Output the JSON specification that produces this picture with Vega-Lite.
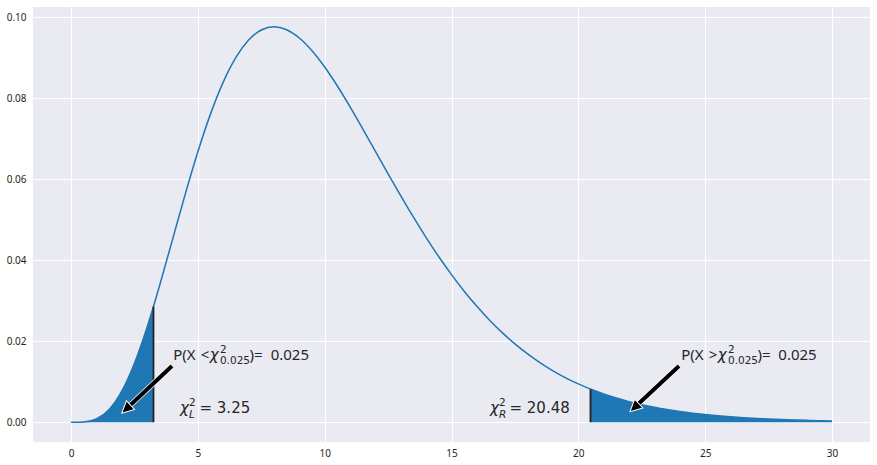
{
  "$schema": "https://vega.github.io/schema/vega-lite/v6.json",
  "width": 837,
  "height": 435,
  "autosize": {"type": "none"},
  "padding": {"left": 33, "top": 7, "right": 7, "bottom": 23},
  "background": "white",
  "config": {
    "view": {"fill": "#EAEAF2", "stroke": null},
    "axis": {"domain": false, "ticks": false, "gridColor": "white", "gridWidth": 1, "gridOpacity": 1, "labelFont": "Noto Sans", "labelFontSize": 10, "labelColor": "#262626", "title": null}
  },
  "datasets": {
    "curve": [
      {"x": 0, "y": 0}, {"x": 0.5, "y": 0.0000634}, {"x": 1, "y": 0.00079}, {"x": 1.5, "y": 0.003114},
      {"x": 2, "y": 0.007664}, {"x": 2.5, "y": 0.014572}, {"x": 3, "y": 0.023533}, {"x": 3.25, "y": 0.028605},
      {"x": 3.5, "y": 0.033954}, {"x": 4, "y": 0.045111}, {"x": 4.5, "y": 0.056276}, {"x": 5, "y": 0.066801},
      {"x": 5.5, "y": 0.07617}, {"x": 6, "y": 0.084016}, {"x": 6.5, "y": 0.090123}, {"x": 7, "y": 0.094405},
      {"x": 7.5, "y": 0.096891}, {"x": 8, "y": 0.097685}, {"x": 8.5, "y": 0.096952}, {"x": 9, "y": 0.094904},
      {"x": 9.5, "y": 0.091759}, {"x": 10, "y": 0.087733}, {"x": 10.5, "y": 0.08306}, {"x": 11, "y": 0.077909},
      {"x": 11.5, "y": 0.072483}, {"x": 12, "y": 0.066928}, {"x": 12.5, "y": 0.061369}, {"x": 13, "y": 0.05591},
      {"x": 13.5, "y": 0.05064}, {"x": 14, "y": 0.045613}, {"x": 14.5, "y": 0.040876}, {"x": 15, "y": 0.036458},
      {"x": 15.5, "y": 0.032373}, {"x": 16, "y": 0.028626}, {"x": 16.5, "y": 0.025214}, {"x": 17, "y": 0.022128},
      {"x": 17.5, "y": 0.019351}, {"x": 18, "y": 0.016869}, {"x": 18.5, "y": 0.014659}, {"x": 19, "y": 0.012702},
      {"x": 19.5, "y": 0.010975}, {"x": 20, "y": 0.009458}, {"x": 20.48, "y": 0.008181}, {"x": 20.5, "y": 0.008131},
      {"x": 21, "y": 0.006973}, {"x": 21.5, "y": 0.005967}, {"x": 22, "y": 0.005095}, {"x": 22.5, "y": 0.004341},
      {"x": 23, "y": 0.003691}, {"x": 23.5, "y": 0.003133}, {"x": 24, "y": 0.002654}, {"x": 24.5, "y": 0.002245},
      {"x": 25, "y": 0.001896}, {"x": 25.5, "y": 0.001598}, {"x": 26, "y": 0.001345}, {"x": 26.5, "y": 0.00113},
      {"x": 27, "y": 0.000949}, {"x": 27.5, "y": 0.000795}, {"x": 28, "y": 0.000666}, {"x": 28.5, "y": 0.000556},
      {"x": 29, "y": 0.000464}, {"x": 29.5, "y": 0.000387}, {"x": 30, "y": 0.000323}
    ],
    "crit": [{"x": 3.25, "y": 0.028605}, {"x": 20.48, "y": 0.008181}],
    "shafts": [
      {"x": 3.98, "y": 0.01388, "x2": 2.226, "y2": 0.00356},
      {"x": 23.97, "y": 0.01388, "x2": 22.268, "y2": 0.00394}
    ],
    "tips": [{"x": 1.997, "y": 0.0022}, {"x": 22.037, "y": 0.00259}],
    "labels": [
      {"x": 4.031, "y": 0.01536, "text": "P(X", "kind": "main"},
      {"x": 5.11, "y": 0.01536, "text": "<", "kind": "main"},
      {"x": 7.036, "y": 0.01536, "text": ")=", "kind": "main"},
      {"x": 7.871, "y": 0.01536, "text": "0.025", "kind": "main"},
      {"x": 24.06, "y": 0.01536, "text": "P(X", "kind": "main"},
      {"x": 25.14, "y": 0.01536, "text": ">", "kind": "main"},
      {"x": 27.064, "y": 0.01536, "text": ")=", "kind": "main"},
      {"x": 27.885, "y": 0.01536, "text": "0.025", "kind": "main"},
      {"x": 5.47, "y": 0.01536, "text": "χ", "kind": "mathit"},
      {"x": 25.5, "y": 0.01536, "text": "χ", "kind": "mathit"},
      {"x": 4.295, "y": 0.0023, "text": "χ", "kind": "mathit"},
      {"x": 16.517, "y": 0.0023, "text": "χ", "kind": "mathit"},
      {"x": 5.064, "y": 0.0023, "text": "= 3.25", "kind": "mathrm"},
      {"x": 17.286, "y": 0.0023, "text": "= 20.48", "kind": "mathrm"},
      {"x": 5.87, "y": 0.01709, "text": "2", "kind": "script"},
      {"x": 5.87, "y": 0.01427, "text": "0.025", "kind": "script"},
      {"x": 25.9, "y": 0.01709, "text": "2", "kind": "script"},
      {"x": 25.9, "y": 0.01427, "text": "0.025", "kind": "script"},
      {"x": 4.65, "y": 0.00413, "text": "2", "kind": "script"},
      {"x": 16.872, "y": 0.00413, "text": "2", "kind": "script"},
      {"x": 4.65, "y": 0.00116, "text": "L", "kind": "scriptit"},
      {"x": 16.872, "y": 0.00116, "text": "R", "kind": "scriptit"}
    ]
  },
  "encoding": {
    "x": {"field": "x", "type": "quantitative", "scale": {"domain": [-1.5, 31.5], "nice": false, "zero": false},
          "axis": {"values": [0, 5, 10, 15, 20, 25, 30], "labelPadding": 6, "grid": true}},
    "y": {"field": "y", "type": "quantitative", "scale": {"domain": [-0.004884, 0.102569], "nice": false, "zero": false},
          "axis": {"values": [0, 0.02, 0.04, 0.06, 0.08, 0.1], "format": ".2f", "labelPadding": 7, "grid": true}}
  },
  "layer": [
    {"data": {"name": "curve"}, "transform": [{"filter": "datum.x <= 3.25"}],
     "mark": {"type": "area", "color": "#1f77b4", "opacity": 1, "interpolate": "monotone"}},
    {"data": {"name": "curve"}, "transform": [{"filter": "datum.x >= 20.48"}],
     "mark": {"type": "area", "color": "#1f77b4", "opacity": 1, "interpolate": "monotone"}},
    {"data": {"name": "curve"},
     "mark": {"type": "line", "color": "#1f77b4", "strokeWidth": 1.5, "interpolate": "monotone"}},
    {"data": {"name": "crit"},
     "mark": {"type": "rule", "color": "#222222", "strokeWidth": 1.8},
     "encoding": {"y2": {"datum": 0}}},
    {"data": {"name": "shafts"},
     "mark": {"type": "rule", "color": "white", "strokeWidth": 5.5, "strokeCap": "butt"},
     "encoding": {"x2": {"field": "x2"}, "y2": {"field": "y2"}}},
    {"data": {"name": "shafts"},
     "mark": {"type": "rule", "color": "black", "strokeWidth": 4, "strokeCap": "butt"},
     "encoding": {"x2": {"field": "x2"}, "y2": {"field": "y2"}}},
    {"data": {"name": "tips"},
     "mark": {"type": "point", "shape": "M0,0L0.5,1L-0.5,1Z", "size": 576, "angle": 227, "filled": true, "fill": "black", "fillOpacity": 1, "stroke": "white", "strokeWidth": 1, "opacity": 1}},
    {"data": {"name": "labels"}, "transform": [{"filter": "datum.kind === 'main'"}],
     "mark": {"type": "text", "align": "left", "baseline": "alphabetic", "font": "Noto Sans", "fontSize": 15, "color": "#262626"},
     "encoding": {"text": {"field": "text"}}},
    {"data": {"name": "labels"}, "transform": [{"filter": "datum.kind === 'mathit'"}],
     "mark": {"type": "text", "align": "left", "baseline": "alphabetic", "font": "DejaVu Sans", "fontStyle": "italic", "fontSize": 15, "color": "#262626"},
     "encoding": {"text": {"field": "text"}}},
    {"data": {"name": "labels"}, "transform": [{"filter": "datum.kind === 'mathrm'"}],
     "mark": {"type": "text", "align": "left", "baseline": "alphabetic", "font": "DejaVu Sans", "fontSize": 15, "color": "#262626"},
     "encoding": {"text": {"field": "text"}}},
    {"data": {"name": "labels"}, "transform": [{"filter": "datum.kind === 'script'"}],
     "mark": {"type": "text", "align": "left", "baseline": "alphabetic", "font": "DejaVu Sans", "fontSize": 10.5, "color": "#262626"},
     "encoding": {"text": {"field": "text"}}},
    {"data": {"name": "labels"}, "transform": [{"filter": "datum.kind === 'scriptit'"}],
     "mark": {"type": "text", "align": "left", "baseline": "alphabetic", "font": "DejaVu Sans", "fontStyle": "italic", "fontSize": 10.5, "color": "#262626"},
     "encoding": {"text": {"field": "text"}}}
  ]
}
